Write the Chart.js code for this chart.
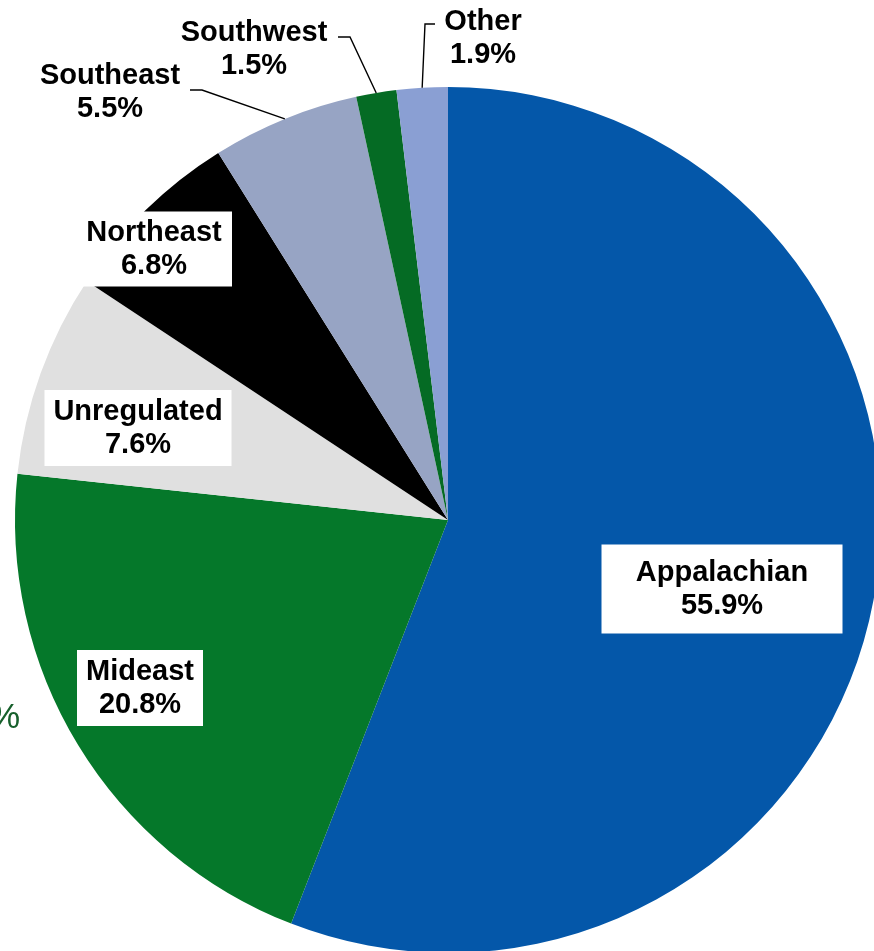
<!DOCTYPE html>
<html>
<head>
<meta charset="utf-8">
<script src="https://cdn.jsdelivr.net/npm/chart.js@4.4.1/dist/chart.umd.min.js"></script>
<style>
  html, body { margin: 0; padding: 0; background: #ffffff; overflow: hidden; width: 874px; height: 951px; }
  #wrap { position: absolute; left: 0; top: 0; width: 900px; height: 1000px; }
</style>
</head>
<body>
<div id="wrap"><canvas id="c" width="900" height="1000"></canvas></div>
<script>
// ---- data ----
const regions = ["Appalachian", "Mideast", "Unregulated", "Northeast", "Southeast", "Southwest", "Other"];
const shares = [55.9, 20.8, 7.6, 6.8, 5.5, 1.5, 1.9];
const shareLabels = ["55.9%", "20.8%", "7.6%", "6.8%", "5.5%", "1.5%", "1.9%"];

// ---- styles ----
const sliceColors = ["#0457a9", "#05782a", "#e0e0e0", "#000000", "#97a4c4", "#056b24", "#8a9fd3"];

// label placement (offset of label center from pie center, box size; null = no box)
const labelPlacement = [
  { dx: 274, dy: 69,   box: { w: 241, h: 89 } },
  { dx: -308, dy: 168, box: { w: 126, h: 76 } },
  { dx: -310, dy: -92, box: { w: 187, h: 76 } },
  { dx: -294, dy: -271, box: { w: 156, h: 75 } },
  { dx: -338, dy: -428, box: null, leader: [[-258, -430], [-246, -430]] },
  { dx: -194, dy: -471, box: null, leader: [[-110, -483], [-98, -483]] },
  { dx: 35, dy: -482, box: null, leader: [[-13, -496], [-23, -496]] }
];

const FONT = "bold 29px 'Liberation Sans', Arial, sans-serif";
const LINE_H = 33;

const labelPlugin = {
  id: 'pieLabels',
  afterDatasetsDraw(chart) {
    const ctx = chart.ctx;
    const meta = chart.getDatasetMeta(0);
    ctx.save();
    meta.data.forEach((arc, i) => {
      const p = labelPlacement[i];
      const cx = arc.x, cy = arc.y, r = arc.outerRadius;
      const lx = cx + p.dx, ly = cy + p.dy;
      if (p.leader) {
        const mid = (arc.startAngle + arc.endAngle) / 2;
        const ex = cx + Math.cos(mid) * r, ey = cy + Math.sin(mid) * r;
        ctx.beginPath();
        ctx.strokeStyle = '#000';
        ctx.lineWidth = 1.4;
        ctx.moveTo(cx + p.leader[0][0], cy + p.leader[0][1]);
        for (let k = 1; k < p.leader.length; k++) ctx.lineTo(cx + p.leader[k][0], cy + p.leader[k][1]);
        ctx.lineTo(ex, ey);
        ctx.stroke();
      }
      if (p.box) {
        ctx.fillStyle = '#ffffff';
        ctx.fillRect(lx - p.box.w / 2, ly - p.box.h / 2, p.box.w, p.box.h);
      }
      ctx.fillStyle = '#000';
      ctx.font = FONT;
      ctx.textAlign = 'center';
      ctx.textBaseline = 'middle';
      ctx.fillText(chart.data.labels[i], lx, ly - LINE_H / 2);
      ctx.fillText(shareLabels[i], lx, ly + LINE_H / 2);
    });
    // clipped fragment of a green label at the left edge
    ctx.fillStyle = '#17602c';
    ctx.font = "35px 'Liberation Sans', Arial, sans-serif";
    ctx.textAlign = 'right';
    ctx.textBaseline = 'middle';
    ctx.fillText('%', 20, 718);
    ctx.restore();
  }
};

new Chart(document.getElementById('c'), {
  type: 'pie',
  data: {
    labels: regions,
    datasets: [{
      data: shares,
      backgroundColor: sliceColors,
      borderWidth: 0
    }]
  },
  options: {
    responsive: false,
    animation: false,
    layout: { padding: { left: 15, top: 87, right: 19, bottom: 47 } },
    plugins: { legend: { display: false }, tooltip: { enabled: false } }
  },
  plugins: [labelPlugin]
});
</script>
</body>
</html>
